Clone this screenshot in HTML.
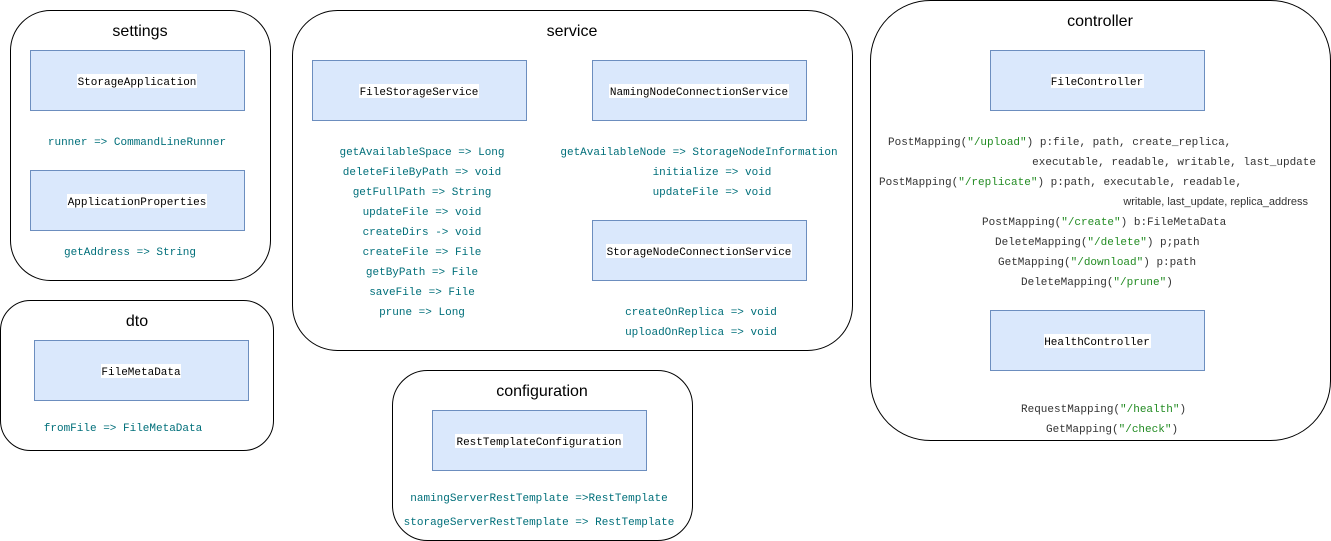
<!DOCTYPE html>
<html><head><meta charset="utf-8"><style>
html,body{margin:0;padding:0;background:#fff;}
svg{display:block;}
.c{fill:#fff;stroke:#000;stroke-width:1;}
.b{fill:#dae8fc;stroke:#6c8ebf;stroke-width:1;}
.t{font-family:"Liberation Sans",sans-serif;font-size:16px;fill:#000;}
.m{font-family:"Liberation Mono",monospace;font-size:11px;}
.teal{fill:#006f7a;}
.d{fill:#333;}
.g{fill:#228b22;}
.s{font-family:"Liberation Sans",sans-serif;font-size:11px;fill:#333;}
</style></head><body>
<svg width="1331" height="541" viewBox="0 0 1331 541" xmlns="http://www.w3.org/2000/svg">
<rect class="c" x="10.5" y="10.5" width="260" height="270" rx="40"/>
<rect class="c" x="0.5" y="300.5" width="273" height="150" rx="30"/>
<rect class="c" x="292.5" y="10.5" width="560" height="340" rx="45"/>
<rect class="c" x="392.5" y="370.5" width="300" height="170" rx="35"/>
<rect class="c" x="870.5" y="0.5" width="460" height="440" rx="60"/>

<g text-anchor="middle">
<text class="t" x="140" y="36">settings</text>
<text class="t" x="137" y="326">dto</text>
<text class="t" x="572" y="36">service</text>
<text class="t" x="542" y="396">configuration</text>
<text class="t" x="1100" y="26">controller</text>
</g>

<g>
<rect class="b" x="30.5" y="50.5" width="214" height="60"/>
<rect class="b" x="30.5" y="170.5" width="214" height="60"/>
<rect class="b" x="34.5" y="340.5" width="214" height="60"/>
<rect class="b" x="312.5" y="60.5" width="214" height="60"/>
<rect class="b" x="592.5" y="60.5" width="214" height="60"/>
<rect class="b" x="592.5" y="220.5" width="214" height="60"/>
<rect class="b" x="432.5" y="410.5" width="214" height="60"/>
<rect class="b" x="990.5" y="50.5" width="214" height="60"/>
<rect class="b" x="990.5" y="310.5" width="214" height="60"/>
</g>

<g fill="#fff">
<rect x="77" y="74" width="120" height="14"/>
<rect x="67" y="194" width="140" height="14"/>
<rect x="101" y="364" width="80" height="14"/>
<rect x="359" y="84" width="120" height="14"/>
<rect x="609" y="84" width="180" height="14"/>
<rect x="606" y="244" width="186" height="14"/>
<rect x="455" y="434" width="168" height="14"/>
<rect x="1051" y="74" width="93" height="14"/>
<rect x="1044" y="334" width="107" height="14"/>
</g>

<g class="m" text-anchor="middle" fill="#000">
<text x="137" y="85">StorageApplication</text>
<text x="137" y="205">ApplicationProperties</text>
<text x="141" y="375">FileMetaData</text>
<text x="419" y="95">FileStorageService</text>
<text x="699" y="95">NamingNodeConnectionService</text>
<text x="699" y="255">StorageNodeConnectionService</text>
<text x="539" y="445">RestTemplateConfiguration</text>
<text x="1097" y="85">FileController</text>
<text x="1097" y="345">HealthController</text>
</g>

<g class="m teal" text-anchor="middle">
<text x="137" y="145">runner =&gt; CommandLineRunner</text>
<text x="130" y="255">getAddress =&gt; String</text>
<text x="123" y="431">fromFile =&gt; FileMetaData</text>
<text x="422" y="155">getAvailableSpace =&gt; Long</text>
<text x="422" y="175">deleteFileByPath =&gt; void</text>
<text x="422" y="195">getFullPath =&gt; String</text>
<text x="422" y="215">updateFile =&gt; void</text>
<text x="422" y="235">createDirs -&gt; void</text>
<text x="422" y="255">createFile =&gt; File</text>
<text x="422" y="275">getByPath =&gt; File</text>
<text x="422" y="295">saveFile =&gt; File</text>
<text x="422" y="315">prune =&gt; Long</text>
<text x="699" y="155">getAvailableNode =&gt; StorageNodeInformation</text>
<text x="712" y="175">initialize =&gt; void</text>
<text x="712" y="195">updateFile =&gt; void</text>
<text x="701" y="315">createOnReplica =&gt; void</text>
<text x="701" y="335">uploadOnReplica =&gt; void</text>
<text x="539" y="501">namingServerRestTemplate =&gt;RestTemplate</text>
<text x="539" y="525">storageServerRestTemplate =&gt; RestTemplate</text>
</g>

<g class="m d">
<text x="888" y="145">PostMapping(<tspan class="g">"/upload"</tspan>) p:file, path, create_replica,</text>
<text x="1316" y="165" text-anchor="end">executable, readable, writable, last_update</text>
<text x="879" y="185">PostMapping(<tspan class="g">"/replicate"</tspan>) p:path, executable, readable,</text>
<text x="982" y="225">PostMapping(<tspan class="g">"/create"</tspan>) b:FileMetaData</text>
<text x="995" y="245">DeleteMapping(<tspan class="g">"/delete"</tspan>) p;path</text>
<text x="998" y="265">GetMapping(<tspan class="g">"/download"</tspan>) p:path</text>
<text x="1021" y="285">DeleteMapping(<tspan class="g">"/prune"</tspan>)</text>
<text x="1021" y="412">RequestMapping(<tspan class="g">"/health"</tspan>)</text>
<text x="1046" y="432">GetMapping(<tspan class="g">"/check"</tspan>)</text>
</g>
<text class="s" x="1308" y="205" text-anchor="end">writable, last_update, replica_address</text>
</svg>
</body></html>
